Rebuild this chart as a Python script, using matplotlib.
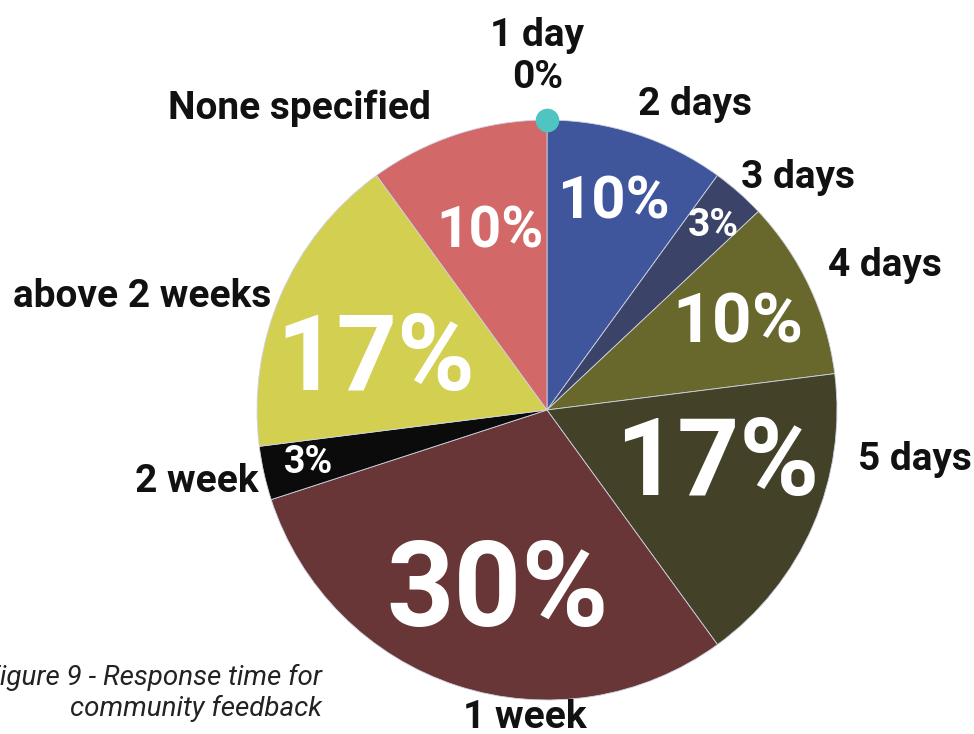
import matplotlib.pyplot as plt
import numpy as np

# Response time for community feedback (percent, clockwise from top)
categories = ["1 day", "2 days", "3 days", "4 days", "5 days",
              "1 week", "2 week", "above 2 weeks", "None specified"]
shares = [0, 10, 3, 10, 17, 30, 3, 17, 10]

colors = ["#4fc4c1", "#3f569c", "#3b4468", "#68682d", "#434228",
          "#683636", "#0a0b0a", "#d2cf51", "#d36868"]

# label placement in pie units (radius = 1), and size of the inner percent text
outer_pos = [(-0.034, 1.219), (0.510, 1.052), (0.866, 0.800), (1.166, 0.500),
             (1.269, -0.172), (-0.076, -1.062), (-1.207, -0.248),
             (-1.397, 0.393), (-0.855, 1.041)]
inner_pos = [None, (0.228, 0.734), (0.572, 0.648), (0.659, 0.317),
             (0.586, -0.159), (-0.169, -0.600), (-0.821, -0.171),
             (-0.590, 0.200), (-0.197, 0.631)]
inner_size = [0, 43, 28, 50, 78, 85, 27, 76, 41]

plt.rcParams['font.family'] = ['Roboto', 'DejaVu Sans']

fig = plt.figure(figsize=(9.74, 7.34), dpi=100)
ax = fig.add_axes([0, 0, 1, 1])
R_PX = 290  # pie radius in pixels

wedges, _ = ax.pie(shares, colors=colors, startangle=90, counterclock=False,
                   radius=1.0,
                   wedgeprops=dict(edgecolor="#cfd3e3", linewidth=0.6))

for i, w in enumerate(wedges):
    if shares[i] == 0:
        # zero slice shown as a dot on the rim
        a = np.deg2rad(w.theta1)
        ax.plot(np.cos(a), np.sin(a), "o", color=colors[i],
                markersize=16, zorder=5)
        ax.text(*outer_pos[i], f"{categories[i]}\n{shares[i]}%", ha="center",
                va="center", fontsize=28, fontweight="bold", color="#111111",
                linespacing=1.2)
        continue
    x, y = inner_pos[i]
    # put digits' visual centre on the point (cap height ~0.711 em)
    half_cap = 0.711 * inner_size[i] * 100 / 72 / R_PX / 2
    ax.text(x, y - half_cap, f"{shares[i]}%", ha="center", va="baseline",
            fontsize=inner_size[i], fontweight="bold", color="white")
    ax.text(*outer_pos[i], categories[i], ha="center", va="center",
            fontsize=28, fontweight="bold", color="#111111")

ax.text(-0.776, -0.975, "Figure 9 - Response time for\ncommunity feedback",
        ha="right", va="center", ma="right", fontsize=20, fontstyle="italic",
        color="#222222", linespacing=1.2)

ax.set_xlim(-547 / R_PX, (974 - 547) / R_PX)
ax.set_ylim((410 - 734) / R_PX, 410 / R_PX)
ax.set_aspect("equal")
ax.axis("off")

fig.savefig("out.png", dpi=100)
